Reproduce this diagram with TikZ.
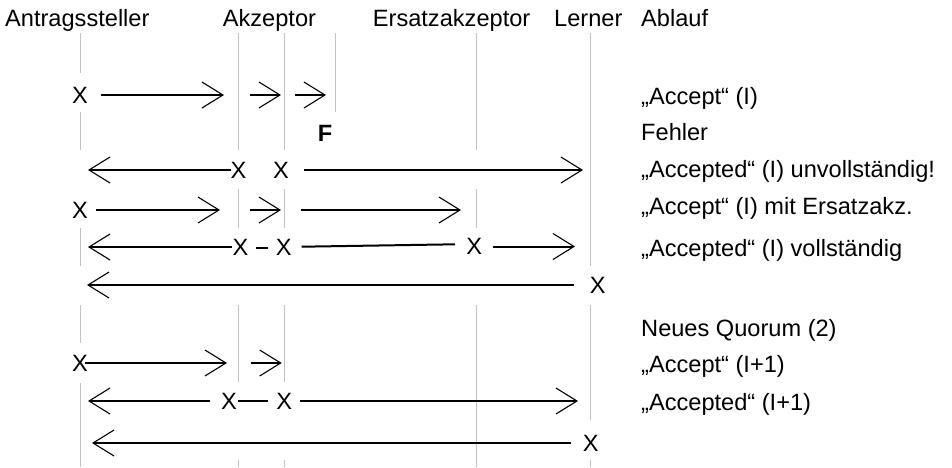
\documentclass[tikz,border=0pt]{standalone}
\usepackage{fontspec}
\setmainfont{Liberation Sans}
\usetikzlibrary{arrows.meta}
\newcommand\dfont{\fontsize{23.6}{28}\selectfont}
\tikzset{
  life/.style={draw=black!24, line width=1pt},
  msg/.style={draw=black, line width=2pt, -{Straight Barb[length=21pt,width=26pt,line width=1.1pt]}},
  bar/.style={draw=black, line width=2pt},
  xmark/.style={inner sep=0pt, font=\dfont},
  lbl/.style={anchor=base west, inner sep=0pt, font=\dfont},
  fmark/.style={inner sep=0pt, font=\dfont\bfseries},
}
\begin{document}
\begin{tikzpicture}[x=1pt,y=-1pt]
\useasboundingbox (0,0) rectangle (952,467);
% header
\node[lbl] (hA) at (5,26) {Antragssteller};
\node[lbl] (hK) at (222.7,26) {Akzeptor};
\node[lbl] (hE) at (372.7,26) {Ersatzakzeptor};
\node[lbl] (hL) at (554,26) {Lerner};
\node[lbl] (hB) at (641,26) {Ablauf};
% lifelines
\draw[life] (80,33) -- (80,73) (80,112) -- (80,150) (80,228) -- (80,266) (80,305) -- (80,343) (80,383) -- (80,467);
\draw[life] (238.5,33) -- (238.5,150) (238.5,189) -- (238.5,228) (238.5,305) -- (238.5,382) (238.5,460) -- (238.5,467);
\draw[life] (284.5,33) -- (284.5,150) (284.5,189) -- (284.5,228) (284.5,305) -- (284.5,382) (284.5,460) -- (284.5,467);
\draw[life] (335,33) -- (335,112);
\draw[life] (476.5,33) -- (476.5,150) (476.5,189) -- (476.5,228) (476.5,305) -- (476.5,467);
\draw[life] (590.5,33) -- (590.5,266) (590.5,305) -- (590.5,420) (590.5,460) -- (590.5,467);
% row 1
\node[xmark] (x1a) at (80,95) {X};
\coordinate (a1s) at (100.7,95); \coordinate (a1e) at (224,95);
\coordinate (a2s) at (250,95);   \coordinate (a2e) at (281,95);
\coordinate (a3s) at (295,95);   \coordinate (a3e) at (326,95);
\draw[msg] (a1s) -- (a1e);
\draw[msg] (a2s) -- (a2e);
\draw[msg] (a3s) -- (a3e);
% fault
\node[fmark] (f) at (325,133) {F};
% row 3
\node[xmark] (x3a) at (238.5,170) {X};
\node[xmark] (x3b) at (281,170) {X};
\coordinate (b1s) at (230.5,170); \coordinate (b1e) at (88,170);
\coordinate (b2s) at (304,170);   \coordinate (b2e) at (583,170);
\draw[msg] (b1s) -- (b1e);
\draw[msg] (b2s) -- (b2e);
% row 4
\node[xmark] (x4a) at (80,210) {X};
\coordinate (c1s) at (96,210);  \coordinate (c1e) at (220,210);
\coordinate (c2s) at (250,210); \coordinate (c2e) at (281,210);
\coordinate (c3s) at (301,210); \coordinate (c3e) at (461,210);
\draw[msg] (c1s) -- (c1e);
\draw[msg] (c2s) -- (c2e);
\draw[msg] (c3s) -- (c3e);
% row 5
\node[xmark] (x5a) at (240.5,247) {X};
\node[xmark] (x5b) at (283.7,247) {X};
\node[xmark] (x5c) at (474.3,246.5) {X};
\coordinate (d1s) at (232,247);     \coordinate (d1e) at (88,247);
\coordinate (d2s) at (256,247.5);   \coordinate (d2e) at (268,247.5);
\coordinate (d3s) at (301.7,246.7); \coordinate (d3e) at (455,244.3);
\coordinate (d4s) at (492.7,246.5); \coordinate (d4e) at (575,246.5);
\draw[msg] (d1s) -- (d1e);
\draw[bar] (d2s) -- (d2e);
\draw[bar] (d3s) -- (d3e);
\draw[msg] (d4s) -- (d4e);
% row 6
\node[xmark] (x6a) at (597.7,285) {X};
\coordinate (e1s) at (574,285); \coordinate (e1e) at (87,285);
\draw[msg] (e1s) -- (e1e);
% row 8
\node[xmark] (x8a) at (80,363) {X};
\coordinate (g1s) at (85,363);    \coordinate (g1e) at (227,363);
\coordinate (g2s) at (250.7,363); \coordinate (g2e) at (281.7,363);
\draw[msg] (g1s) -- (g1e);
\draw[msg] (g2s) -- (g2e);
% row 9
\node[xmark] (x9a) at (229,401) {X};
\node[xmark] (x9b) at (284.3,401) {X};
\coordinate (h1s) at (210,401);   \coordinate (h1e) at (88,401);
\coordinate (h2s) at (238.3,401); \coordinate (h2e) at (268.3,401);
\coordinate (h3s) at (300,401);   \coordinate (h3e) at (578,401);
\draw[msg] (h1s) -- (h1e);
\draw[bar] (h2s) -- (h2e);
\draw[msg] (h3s) -- (h3e);
% row 10
\node[xmark] (x10a) at (590.7,443) {X};
\coordinate (k1s) at (570.7,443); \coordinate (k1e) at (92,443);
\draw[msg] (k1s) -- (k1e);
% labels
\node[lbl] (l1) at (641,104.5) {„Accept“ (I)};
\node[lbl] (l2) at (641,140) {Fehler};
\node[lbl] (l3) at (641,177) {„Accepted“ (I) unvollständig!};
\node[lbl] (l4) at (641,214) {„Accept“ (I) mit Ersatzakz.};
\node[lbl] (l5) at (641,256.5) {„Accepted“ (I) vollständig};
\node[lbl] (l6) at (641,336) {Neues Quorum (2)};
\node[lbl] (l7) at (641,372.7) {„Accept“ (I+1)};
\node[lbl] (l8) at (641,410) {„Accepted“ (I+1)};
\end{tikzpicture}
\end{document}
